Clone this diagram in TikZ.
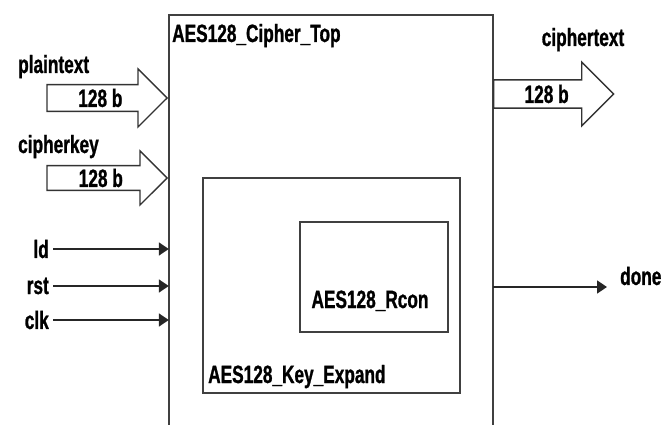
\documentclass[tikz,border=0pt]{standalone}
\usepackage{fontspec}
\newfontfamily\diafont{Liberation Sans}[FakeStretch=0.69, FakeBold=1]
\usetikzlibrary{arrows.meta,positioning,shapes.arrows}

\begin{document}
\begin{tikzpicture}[x=1pt, y=-1pt,
    every node/.style={font=\diafont\bfseries\fontsize{25}{27}\selectfont},
    block/.style={rectangle, draw=black!75, line width=1.6pt, inner sep=0pt},
    bus/.style={single arrow, draw=black!80, line width=1.4pt, single arrow tip angle=90, inner sep=2pt},
    sig/.style={-{Triangle[length=10pt, width=13pt]}, line width=1.8pt, draw=black!85},
    lbl/.style={inner sep=1pt}
  ]
    \useasboundingbox (0,0) rectangle (662,425);

    % top level block, open at the bottom
    \node[rectangle, minimum width=324pt, minimum height=410pt, inner sep=0pt] (top) at (331,220) {};
    \draw[draw=black!75, line width=1.6pt] (top.south west) -- (top.north west) -- (top.north east) -- (top.south east);
    \node[lbl, anchor=base west] (toptxt) at (171,42) {AES128\_Cipher\_Top};

    \node[block, minimum width=257pt, minimum height=215pt] (keyexp) at (331.5,285.5) {};
    \node[lbl, anchor=base west] (keytxt) at (207,383) {AES128\_Key\_Expand};
    \node[block, minimum width=148pt, minimum height=110pt] (rcon) at (374,277) {};
    \node[lbl, anchor=base] (rcontxt) at (370,308) {AES128\_Rcon};

    % data buses
    \node[bus, anchor=tip, minimum height=120pt, minimum width=58pt, single arrow head extend=14pt] (ptbus) at (168,98) {128 b};
    \node[lbl, anchor=base west] (pt) at (17,73) {plaintext};
    \node[bus, anchor=tip, minimum height=120pt, minimum width=54pt, single arrow head extend=14pt] (ckbus) at (168,178) {128 b};
    \node[lbl, anchor=base west] (ck) at (17,153) {cipherkey};
    \node[bus, anchor=tail, minimum height=120pt, minimum width=64pt, single arrow head extend=15pt] (ctbus) at (493,94) {128 b};
    \node[lbl, anchor=base] (ct) at (583,46) {ciphertext};

    % control signals
    \node[lbl, anchor=east] (ld) at (50,249) {ld};
    \node[lbl, anchor=east] (rst) at (50,286) {rst};
    \node[lbl, anchor=east] (clk) at (50,320) {clk};
    \draw[sig, shorten <=3pt] (ld.east) -- (ld.east -| top.west);
    \draw[sig, shorten <=3pt] (rst.east) -- (rst.east -| top.west);
    \draw[sig, shorten <=3pt] (clk.east) -- (clk.east -| top.west);

    \coordinate (doneend) at (607,287);
    \node[lbl, anchor=west] (done) at (619,276) {done};
    \draw[sig] (doneend -| top.east) -- (doneend);
  \end{tikzpicture}
\end{document}
